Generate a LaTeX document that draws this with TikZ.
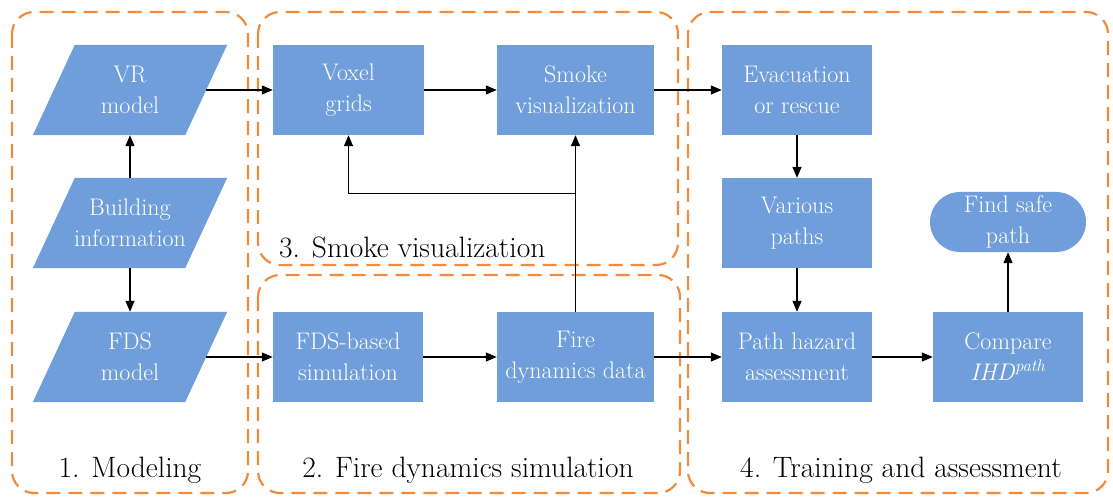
\documentclass[tikz,border=0pt]{standalone}
\usetikzlibrary{arrows.meta,backgrounds,calc}
\definecolor{boxblue}{RGB}{112,158,218}
\definecolor{grporange}{RGB}{240,138,60}
\begin{document}
\begin{tikzpicture}[x=1pt,y=-1pt,
  boxtext/.style={font=\fontsize{24}{31}\selectfont, text=white, align=center, inner sep=0pt},
  rectbox/.style={boxtext, fill=boxblue, minimum height=90pt},
  parabox/.style={boxtext, minimum width=152pt, minimum height=90pt},
  group/.style={draw=grporange, line width=2.2pt, dash pattern=on 14pt off 8pt, rounded corners=22pt},
  grplabel/.style={font=\fontsize{29.5}{35}\selectfont, inner sep=0pt},
  arr/.style={line width=1.3pt, -{Triangle[length=11pt,width=9pt]}}
]
\useasboundingbox (0,0) rectangle (1113,497);

% groups
\draw[group] (12,12) rectangle (248,493);
\draw[group] (258,12) rectangle (678,265);
\draw[group] (258,275) rectangle (680,493);
\draw[group] (688,12) rectangle (1108,493);

% parallelogram nodes
\node[parabox] (vr) at (130,90) {VR\\model};
\node[parabox] (bi) at (130,223) {Building\\information};
\node[parabox] (fds) at (130,357) {FDS\\model};
\begin{scope}[on background layer]
\foreach \n in {vr,bi,fds}{
  \fill[boxblue] ($(\n.north east)+(21,0)$) -- ($(\n.north west)+(21,0)$)
     -- ($(\n.south west)-(21,0)$) -- ($(\n.south east)-(21,0)$) -- cycle;
}
\end{scope}

% rectangle nodes
\node[rectbox, minimum width=151pt] (voxel) at (348.5,90) {Voxel\\grids};
\node[rectbox, minimum width=157pt] (smoke) at (575.5,90) {Smoke\\visualization};
\node[rectbox, minimum width=150pt] (evac) at (797,90) {Evacuation\\or rescue};
\node[rectbox, minimum width=150pt] (various) at (797,223) {Various\\paths};
\node[rectbox, minimum width=150pt] (hazard) at (797,357) {Path hazard\\assessment};
\node[rectbox, minimum width=150pt] (compare) at (1008,357) {Compare\\\textit{IHD}\textsuperscript{\textit{path}}};
\node[rectbox, minimum width=156pt, minimum height=60pt, rounded corners=30pt] (safe) at (1008,222) {Find safe\\path};
\node[rectbox, minimum width=150pt] (fdssim) at (348,357) {FDS-based\\simulation};
\node[rectbox, minimum width=157pt] (firedata) at (575.5,357) {Fire\\dynamics data};

% group labels
\node[grplabel, anchor=base] (l1) at (130,477) {1. Modeling};
\node[grplabel, anchor=base] (l2) at (468,477) {2. Fire dynamics simulation};
\node[grplabel, anchor=base west] (l3) at (279,257) {3. Smoke visualization};
\node[grplabel, anchor=base west] (l4) at (740,477) {4. Training and assessment};

% connectors
\draw[arr] (vr.east) -- (voxel.west);
\draw[arr] (bi.north) -- (vr.south);
\draw[arr] (bi.south) -- (fds.north);
\draw[arr] (fds.east) -- (fdssim.west);
\draw[arr] (voxel.east) -- (smoke.west);
\draw[arr] (smoke.east) -- (evac.west);
\draw[arr] (evac.south) -- (various.north);
\draw[arr] (various.south) -- (hazard.north);
\draw[arr] (fdssim.east) -- (firedata.west);
\draw[arr] (firedata.east) -- (hazard.west);
\draw[arr] (hazard.east) -- (compare.west);
\draw[arr] (compare.north) -- (safe.south);
\coordinate (branch) at ($(firedata.north)!0.67!(smoke.south)$);
\draw[arr] (firedata.north) -- (smoke.south);
\draw[arr] (branch) -| (voxel.south);
\end{tikzpicture}
\end{document}
